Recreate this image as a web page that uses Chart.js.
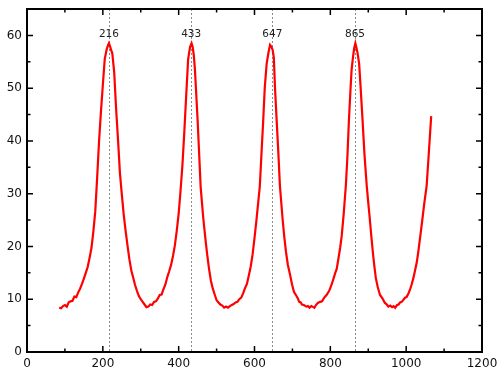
<!DOCTYPE html>
<html>
<head>
<meta charset="utf-8">
<script src="https://cdn.jsdelivr.net/npm/chart.js@4/dist/chart.umd.min.js"></script>
<style>
  html, body { margin: 0; padding: 0; background: #ffffff; }
  #wrap { width: 500px; height: 375px; position: relative; }
</style>
</head>
<body>
<div id="wrap"><canvas id="c" width="500" height="375"></canvas></div>
<script>
// Position samples
const xValues = [
  85,90,95,100,105,110,115,120,125,130,
  135,140,145,150,155,160,165,170,175,180,
  185,190,195,200,205,210,213,216,219,222,
  225,230,235,240,245,250,255,260,265,270,
  275,280,285,290,295,300,305,310,315,320,
  325,330,335,340,345,350,355,360,365,370,
  375,380,385,390,395,400,405,410,415,420,
  425,430,434,437,440,443,447,450,455,458,
  462,465,470,475,480,485,490,495,500,505,
  510,515,520,525,530,535,540,545,550,555,
  560,565,570,575,580,585,590,595,600,605,
  610,614,618,623,627,632,637,641,645,648,
  651,654,658,663,667,674,678,683,688,694,
  699,704,710,714,718,722,725,730,737,741,
  745,750,753,758,762,767,773,778,784,790,
  797,803,808,813,817,822,826,830,835,841,
  845,849,853,856,860,863,866,869,872,876,
  880,885,890,896,900,904,908,912,916,920,
  925,931,937,944,949,953,958,963,967,971,
  976,980,984,988,993,997,1001,1006,1010,1014,
  1019,1023,1028,1032,1037,1043,1048,1054,1060,1066
];
const intensityValues = [
  8.4,8.3,8.7,8.9,8.6,9.4,9.6,9.7,10.5,10.4,
  11.3,12.0,12.9,13.9,15.0,16.1,17.8,19.7,22.8,26.6,
  33.0,39.9,45.5,50.6,55.5,57.3,58.0,58.5,57.9,57.2,
  56.6,53.0,46.1,40.3,34.0,29.9,26.1,23.0,20.2,17.6,
  15.5,14.1,12.7,11.6,10.6,10.0,9.5,9.0,8.5,8.6,
  9.0,8.9,9.5,9.6,10.1,10.8,10.9,11.9,12.8,14.2,
  15.3,16.5,18.2,20.2,23.0,26.2,30.6,35.5,41.8,48.8,
  55.5,57.8,58.5,57.8,56.2,53.4,48.0,43.9,36.0,31.3,
  27.8,25.3,21.8,18.6,15.8,13.5,12.0,10.9,9.8,9.4,
  9.0,8.8,8.4,8.6,8.4,8.7,8.9,9.1,9.4,9.5,
  10.0,10.3,11.1,12.1,12.9,14.5,16.2,18.5,21.6,24.9,
  28.5,31.4,37.0,43.9,50.0,54.6,56.8,58.2,57.8,57.2,
  55.8,50.2,44.5,37.6,31.5,25.3,22.2,19.0,16.5,14.6,
  12.8,11.4,10.7,10.2,9.5,9.4,9.0,8.9,8.6,8.7,
  8.4,8.7,8.6,8.4,8.9,9.3,9.5,9.6,10.3,10.8,
  11.6,12.7,13.8,15.0,15.8,18.0,19.8,22.0,26.0,31.6,
  37.0,43.9,49.5,53.4,56.0,57.6,58.5,57.6,56.6,54.6,
  50.0,43.9,37.5,31.5,28.3,25.3,22.0,19.0,16.3,14.0,
  12.3,10.8,10.2,9.3,9.0,8.6,8.8,8.5,8.7,8.4,
  8.9,9.0,9.4,9.5,9.9,10.3,10.4,11.1,11.8,12.7,
  14.0,15.3,17.0,19.0,21.8,25.3,28.3,31.5,38.0,44.7
];
// Marked peak positions and their labels
const peakPositions = [216, 433, 647, 865];
const peakLabels = ["216", "433", "647", "865"];
const peakLabelLevel = 60.3;
// Axis ticks
const xTickValues = [0, 200, 400, 600, 800, 1000, 1200];
const xMinorValues = [100, 300, 500, 700, 900, 1100];
const yTickValues = [0, 10, 20, 30, 40, 50, 60];
const yMinorValues = [5, 15, 25, 35, 45, 55];

const points = xValues.map((x, i) => ({ x: x, y: intensityValues[i] }));

const FONT = "'DejaVu Sans', sans-serif";

const framePlugin = {
  id: 'framePlugin',
  beforeDatasetsDraw(chart) {
    const ctx = chart.ctx, a = chart.chartArea;
    const xs = chart.scales.x, ys = chart.scales.y;
    ctx.save();
    ctx.strokeStyle = '#8a8a8a';
    ctx.lineWidth = 1;
    ctx.setLineDash([2, 2]);
    peakPositions.forEach(p => {
      const px = Math.round(xs.getPixelForValue(p)) + 0.5;
      ctx.beginPath();
      ctx.moveTo(px, a.top);
      ctx.lineTo(px, a.bottom);
      ctx.stroke();
    });
    ctx.setLineDash([]);
    ctx.fillStyle = '#222';
    ctx.font = '10.5px ' + FONT;
    ctx.textAlign = 'center';
    ctx.textBaseline = 'middle';
    peakPositions.forEach((p, i) => {
      ctx.fillText(peakLabels[i], xs.getPixelForValue(p), ys.getPixelForValue(peakLabelLevel));
    });
    ctx.restore();
  },
  afterDraw(chart) {
    const ctx = chart.ctx, a = chart.chartArea;
    const xs = chart.scales.x, ys = chart.scales.y;
    ctx.save();
    ctx.strokeStyle = '#000';
    ctx.lineWidth = 2;
    ctx.strokeRect(a.left, a.top, a.right - a.left, a.bottom - a.top);
    ctx.lineWidth = 1.5;
    const tick = (vals, len) => {
      vals.forEach(v => {
        const px = xs.getPixelForValue(v);
        ctx.beginPath();
        ctx.moveTo(px, a.bottom); ctx.lineTo(px, a.bottom - len);
        ctx.moveTo(px, a.top); ctx.lineTo(px, a.top + len);
        ctx.stroke();
      });
    };
    const ytick = (vals, len) => {
      vals.forEach(v => {
        const py = ys.getPixelForValue(v);
        ctx.beginPath();
        ctx.moveTo(a.left, py); ctx.lineTo(a.left + len, py);
        ctx.moveTo(a.right, py); ctx.lineTo(a.right - len, py);
        ctx.stroke();
      });
    };
    tick(xTickValues, 6);
    tick(xMinorValues, 3.5);
    ytick(yTickValues, 6);
    ytick(yMinorValues, 3.5);
    ctx.restore();
  }
};

new Chart(document.getElementById('c'), {
  type: 'line',
  data: {
    datasets: [{
      data: points,
      borderColor: '#ff0000',
      borderWidth: 2.2,
      pointRadius: 0,
      tension: 0,
      fill: false
    }]
  },
  options: {
    responsive: false,
    animation: false,
    layout: { padding: { top: 9, right: 18, left: 0, bottom: 0 } },
    plugins: { legend: { display: false }, tooltip: { enabled: false } },
    scales: {
      x: {
        type: 'linear',
        min: 0, max: 1200,
        afterBuildTicks: s => { s.ticks = xTickValues.map(v => ({ value: v })); },
        ticks: { color: '#111', font: { family: FONT, size: 12 }, padding: 5, maxRotation: 0,
                 callback: v => String(v) },
        grid: { display: false, drawTicks: false },
        border: { display: false },
        afterFit: s => { s.height = 23; s.paddingLeft = 0; s.paddingRight = 0; s.paddingTop = 0; s.paddingBottom = 0; }
      },
      y: {
        type: 'linear',
        min: 0, max: 65,
        afterBuildTicks: s => { s.ticks = yTickValues.map(v => ({ value: v })); },
        ticks: { color: '#111', font: { family: FONT, size: 12 }, padding: 5,
                 callback: v => String(v) },
        grid: { display: false, drawTicks: false },
        border: { display: false },
        afterFit: s => { s.width = 27; s.paddingLeft = 0; s.paddingRight = 0; s.paddingTop = 0; s.paddingBottom = 0; }
      }
    }
  },
  plugins: [framePlugin]
});
</script>
</body>
</html>
